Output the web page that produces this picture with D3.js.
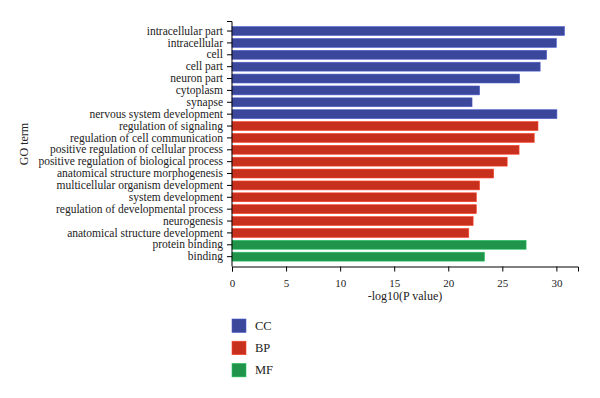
<!DOCTYPE html>
<html>
<head>
<meta charset="utf-8">
<script src="https://cdn.jsdelivr.net/npm/d3@7"></script>
<style>
  body { margin: 0; background: #fff; }
  svg text { font-family: "Liberation Serif", "DejaVu Serif", serif; fill: #222; }
</style>
</head>
<body>
<svg id="chart" width="600" height="398"></svg>
<script>
// GO terms, top to bottom
var terms = [
    "intracellular part", "intracellular", "cell", "cell part", "neuron part",
    "cytoplasm", "synapse", "nervous system development",
    "regulation of signaling", "regulation of cell communication",
    "positive regulation of cellular process", "positive regulation of biological process",
    "anatomical structure morphogenesis", "multicellular organism development",
    "system development", "regulation of developmental process", "neurogenesis",
    "anatomical structure development", "protein binding", "binding"
];
var values = [30.75, 30.0, 29.1, 28.5, 26.6, 22.9, 22.2, 30.05,
              28.3, 27.95, 26.55, 25.45, 24.2, 22.9, 22.6, 22.6, 22.3, 21.9,
              27.2, 23.35];
var groups = ["CC", "CC", "CC", "CC", "CC", "CC", "CC", "CC",
              "BP", "BP", "BP", "BP", "BP", "BP", "BP", "BP", "BP", "BP",
              "MF", "MF"];
var legendKeys = ["CC", "BP", "MF"];
var xTicks = [0, 5, 10, 15, 20, 25, 30];

function drawChart() {
    var colour = d3.scaleOrdinal()
        .domain(legendKeys)
        .range(["#3a479a", "#c8301e", "#1f944a"]);

    var svg = d3.select("#chart");

    // Plot area
    var plot = { left: 232, right: 578, top: 21.5, bottom: 266.5 };

    var x = d3.scaleLinear().domain([0, 32]).range([plot.left, plot.right]);
    var y = d3.scaleBand().domain(terms).range([25.1, 262.6])
        .paddingInner(0.25).paddingOuter(0.125);

    // Bars
    svg.selectAll(".bar")
        .data(terms)
      .enter().append("rect")
        .attr("class", "bar")
        .attr("x", x(0))
        .attr("y", function(d) { return y(d); })
        .attr("width", function(d, i) { return x(values[i]) - x(0); })
        .attr("height", y.bandwidth())
        .attr("fill", function(d, i) { return colour(groups[i]); })
        .attr("stroke", function(d, i) { return d3.color(colour(groups[i])).brighter(0.8); })
        .attr("stroke-width", 0.6);

    // X axis
    var xAxis = d3.axisBottom(x).tickValues(xTicks).tickSize(5).tickSizeOuter(5);
    var gx = svg.append("g")
        .attr("transform", "translate(0," + plot.bottom + ")")
        .call(xAxis);
    gx.selectAll("text").attr("font-size", 11).attr("dy", "1.15em");
    gx.selectAll("line, path").attr("stroke", "#000");

    svg.append("text")
        .attr("x", (plot.left + plot.right) / 2)
        .attr("y", 300)
        .attr("text-anchor", "middle")
        .attr("font-size", 12)
        .text("-log10(P value)");

    // Y axis
    var yAxis = d3.axisLeft(y).tickSize(5).tickSizeOuter(0).tickPadding(4);
    var gy = svg.append("g")
        .attr("transform", "translate(" + plot.left + ",0)")
        .call(yAxis);
    gy.select(".domain").remove();
    gy.selectAll("text").attr("font-size", 11.5);
    gy.selectAll("line").attr("stroke", "#000");

    // y axis line running the full height with an outer tick at the top
    svg.append("path")
        .attr("d", "M" + (plot.left - 5) + "," + plot.top + "H" + plot.left + "V" + plot.bottom)
        .attr("fill", "none")
        .attr("stroke", "#000");

    svg.append("text")
        .attr("transform", "translate(28," + ((plot.top + plot.bottom) / 2) + ") rotate(-90)")
        .attr("text-anchor", "middle")
        .attr("font-size", 12)
        .text("GO term");

    // Legend
    var legend = svg.append("g").attr("id", "legend");
    var item = legend.selectAll("g")
        .data(legendKeys)
      .enter().append("g")
        .attr("transform", function(d, i) { return "translate(232," + (319 + i * 22.2) + ")"; });

    item.append("rect")
        .attr("width", 14)
        .attr("height", 13.5)
        .attr("fill", function(d) { return colour(d); })
        .attr("stroke", function(d) { return d3.color(colour(d)).brighter(0.8); })
        .attr("stroke-width", 0.6);

    item.append("text")
        .attr("x", 23)
        .attr("y", 11)
        .attr("font-size", 12.5)
        .text(function(d) { return d; });
}

drawChart();
</script>
</body>
</html>
